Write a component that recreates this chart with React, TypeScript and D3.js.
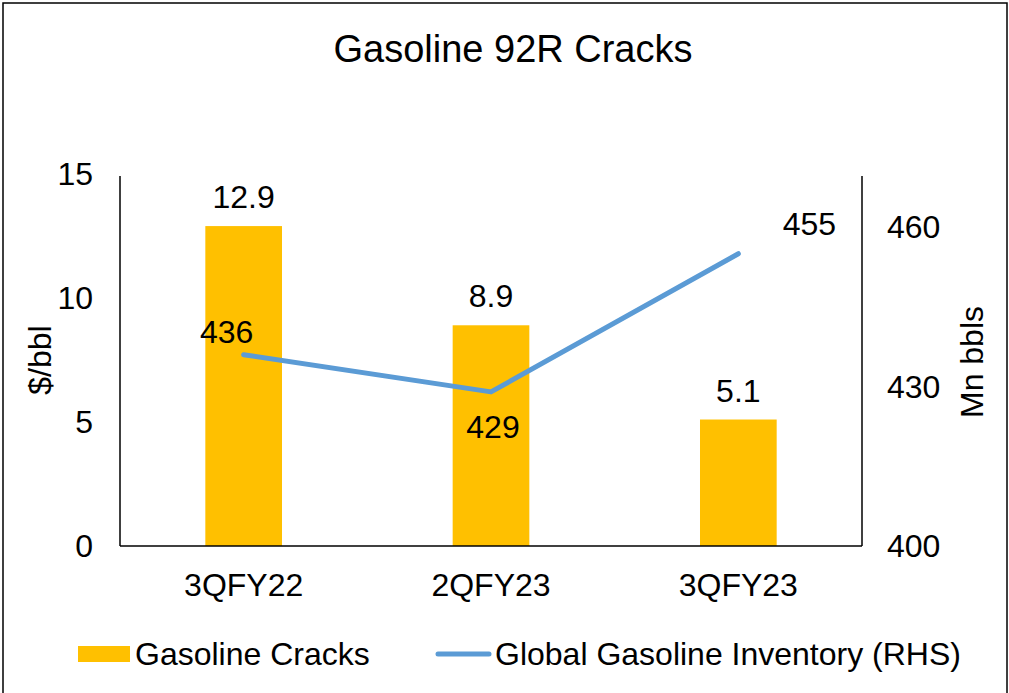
import React, { useRef, useEffect } from "react";
import * as d3 from "d3";

// Chart data
const categories = ["3QFY22", "2QFY23", "3QFY23"];
const cracks = [12.9, 8.9, 5.1];
const inventory = [436, 429, 455];
const leftTicks = [0, 5, 10, 15];
const rightTicks = [400, 430, 460];

const W = 1009;
const H = 693;
const FONT = "'Liberation Sans', Arial, sans-serif";
const FS = 32;

const App: React.FC = () => {
  const svgRef = useRef<SVGSVGElement | null>(null);

  useEffect(() => {
    if (!svgRef.current) return;
    const svg = d3.select(svgRef.current);
    svg.selectAll("*").remove();

    const plot = { left: 120, right: 862, top: 174, bottom: 546 };

    // Scales
    const x = d3
      .scaleBand()
      .domain(categories)
      .range([plot.left, plot.right])
      .paddingInner(0.69)
      .paddingOuter(0.345);
    const yLeft = d3.scaleLinear().domain([0, 15]).range([plot.bottom, plot.top]);
    const yRight = d3.scaleLinear().domain([400, 470]).range([plot.bottom, plot.top]);
    const cx = (i: number) => x(categories[i])! + x.bandwidth() / 2;

    // Outer border
    svg
      .append("rect")
      .attr("x", 3)
      .attr("y", 3)
      .attr("width", W - 5)
      .attr("height", H + 10)
      .attr("fill", "white")
      .attr("stroke", "#000")
      .attr("stroke-width", 1.5);

    // Title
    svg
      .append("text")
      .attr("x", 513)
      .attr("y", 62)
      .attr("text-anchor", "middle")
      .attr("font-size", 38)
      .text("Gasoline 92R Cracks");

    // Bars
    svg
      .append("g")
      .selectAll("rect")
      .data(cracks)
      .enter()
      .append("rect")
      .attr("x", (_d, i) => x(categories[i])!)
      .attr("y", (d) => yLeft(d))
      .attr("width", x.bandwidth())
      .attr("height", (d) => yLeft(0) - yLeft(d))
      .attr("fill", "#FFC000");

    // Bar labels
    svg
      .append("g")
      .selectAll("text")
      .data(cracks)
      .enter()
      .append("text")
      .attr("x", (_d, i) => cx(i))
      .attr("y", (d) => yLeft(d) - 18)
      .attr("text-anchor", "middle")
      .attr("font-size", FS)
      .text((d) => d.toFixed(1));

    // Axes lines
    const axes = svg.append("g").attr("stroke", "#000").attr("stroke-width", 1.5);
    axes
      .append("line")
      .attr("x1", plot.left)
      .attr("x2", plot.left)
      .attr("y1", plot.top + 2)
      .attr("y2", plot.bottom);
    axes
      .append("line")
      .attr("x1", plot.right)
      .attr("x2", plot.right)
      .attr("y1", plot.top + 2)
      .attr("y2", plot.bottom);
    axes
      .append("line")
      .attr("x1", plot.left)
      .attr("x2", plot.right)
      .attr("y1", plot.bottom)
      .attr("y2", plot.bottom);

    // Left ticks
    svg
      .append("g")
      .selectAll("text")
      .data(leftTicks)
      .enter()
      .append("text")
      .attr("x", 93)
      .attr("y", (d) => yLeft(d))
      .attr("dy", "0.35em")
      .attr("text-anchor", "end")
      .attr("font-size", FS)
      .text((d) => d);

    // Right ticks
    svg
      .append("g")
      .selectAll("text")
      .data(rightTicks)
      .enter()
      .append("text")
      .attr("x", 887)
      .attr("y", (d) => yRight(d))
      .attr("dy", "0.35em")
      .attr("text-anchor", "start")
      .attr("font-size", FS)
      .text((d) => d);

    // Category labels
    svg
      .append("g")
      .selectAll("text")
      .data(categories)
      .enter()
      .append("text")
      .attr("x", (_d, i) => cx(i))
      .attr("y", 596)
      .attr("text-anchor", "middle")
      .attr("font-size", FS)
      .text((d) => d);

    // Axis titles
    svg
      .append("text")
      .attr("transform", "translate(51,360) rotate(-90)")
      .attr("text-anchor", "middle")
      .attr("font-size", FS)
      .text("$/bbl");
    svg
      .append("text")
      .attr("transform", "translate(983,362) rotate(-90)")
      .attr("text-anchor", "middle")
      .attr("font-size", FS)
      .text("Mn bbls");

    // Inventory line
    const line = d3
      .line<number>()
      .x((_d, i) => cx(i))
      .y((d) => yRight(d));
    svg
      .append("path")
      .datum(inventory)
      .attr("d", line)
      .attr("fill", "none")
      .attr("stroke", "#5B9BD5")
      .attr("stroke-width", 5)
      .attr("stroke-linecap", "round")
      .attr("stroke-linejoin", "round");

    // Line labels: left, below, right-above
    const offsets = [
      { dx: -17, dy: -12 },
      { dx: 2, dy: 46 },
      { dx: 71, dy: -19 },
    ];
    svg
      .append("g")
      .selectAll("text")
      .data(inventory)
      .enter()
      .append("text")
      .attr("x", (_d, i) => cx(i) + offsets[i].dx)
      .attr("y", (d, i) => yRight(d) + offsets[i].dy)
      .attr("text-anchor", "middle")
      .attr("font-size", FS)
      .text((d) => d);

    // Legend
    const legend = svg.append("g");
    legend
      .append("rect")
      .attr("x", 78)
      .attr("y", 646)
      .attr("width", 52)
      .attr("height", 16)
      .attr("fill", "#FFC000");
    legend
      .append("text")
      .attr("x", 135)
      .attr("y", 665)
      .attr("font-size", FS)
      .text("Gasoline Cracks");
    legend
      .append("line")
      .attr("x1", 438)
      .attr("x2", 489)
      .attr("y1", 654)
      .attr("y2", 654)
      .attr("stroke", "#5B9BD5")
      .attr("stroke-width", 5)
      .attr("stroke-linecap", "round");
    legend
      .append("text")
      .attr("x", 495)
      .attr("y", 665)
      .attr("font-size", FS)
      .text("Global Gasoline Inventory (RHS)");
  }, []);

  return (
    <svg
      ref={svgRef}
      width={W}
      height={H}
      style={{ position: "absolute", left: 0, top: 0, fontFamily: FONT }}
    />
  );
};

export default App;
